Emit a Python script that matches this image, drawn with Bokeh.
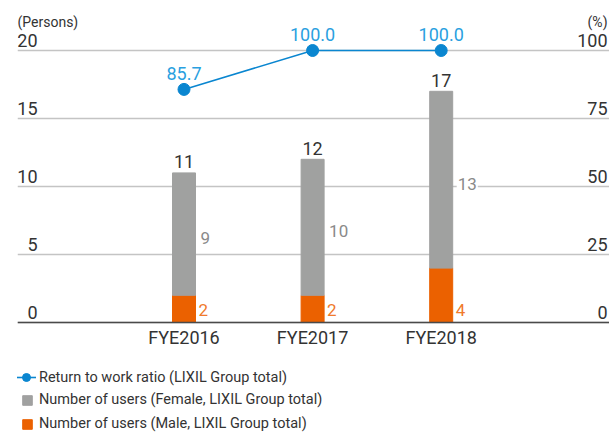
from bokeh.plotting import figure
from bokeh.models import ColumnDataSource, Range1d, Grid, FixedTicker, Span, Legend, LegendItem
from bokeh.core.properties import value
from bokeh.embed import file_html
from bokeh.resources import INLINE

# ---- data ----
categories = ["FYE2016", "FYE2017", "FYE2018"]
male_users = [2, 2, 4]
female_users = [9, 10, 13]
return_ratio = [85.7, 100.0, 100.0]
persons_ticks = [0, 5, 10, 15, 20]
percent_ticks = [0, 25, 50, 75, 100]
series_names = [
    "Return to work ratio (LIXIL Group total)",
    "Number of users (Female, LIXIL Group total)",
    "Number of users (Male, LIXIL Group total)",
]
unit_left = "(Persons)"
unit_right = "(%)"

# ---- style / layout ----
FONT = "Roboto"
DARK = "#333333"
GRAY = "#a0a1a0"
ORANGE = "#eb6100"
ORANGE_TXT = "#f07a2c"
GRAY_TXT = "#8a8a8a"
BLUE = "#0a86d0"
BLUE_TXT = "#2a9fe0"
W, H = 609, 432
frame_left = 17
first_center = 183.5
px_per_cat = 128.6
zero_y = 322
px_per_unit = 13.6
bar_w = 23 / px_per_cat

x_start = (frame_left - first_center) / px_per_cat
x_end = (W - first_center) / px_per_cat
y_end = zero_y / px_per_unit
y_start = -(H - zero_y) / px_per_unit
ratio = max(percent_ticks) / max(persons_ticks)

xs = list(range(len(categories)))
totals = [m + f for m, f in zip(male_users, female_users)]
src = ColumnDataSource(dict(
    x=xs,
    xl=[x + bar_w / 2 for x in xs],
    cat=categories,
    male=male_users,
    female=female_users,
    total=totals,
    total_txt=[str(t) for t in totals],
    male_txt=[str(v) for v in male_users],
    female_txt=[str(v) for v in female_users],
    female_mid=[m + f / 2 for m, f in zip(male_users, female_users)],
    zero=[0] * len(xs),
    ratio=return_ratio,
    ratio_txt=[f"{v:.1f}" for v in return_ratio],
))

p = figure(width=W, height=H, x_range=Range1d(x_start, x_end), y_range=Range1d(y_start, y_end),
           output_backend="svg", toolbar_location=None,
           x_axis_location=None, y_axis_location=None,
           min_border_left=frame_left, min_border_right=0, min_border_top=0, min_border_bottom=0)
p.outline_line_color = None
p.extra_y_ranges = {"pct": Range1d(y_start * ratio, y_end * ratio)}
p.xgrid.visible = False
p.ygrid.visible = False

grid = Grid(dimension=1, ticker=FixedTicker(ticks=persons_ticks),
            grid_line_color="#c4c4c4", grid_line_width=1.5)
p.add_layout(grid)
p.add_layout(Span(location=persons_ticks[0], dimension="width", line_color="#4a4a4a", line_width=1.5))

txt = dict(text_font=value(FONT), text_baseline="middle")

# tick labels
lt = ColumnDataSource(dict(y=persons_ticks, t=[str(v) for v in persons_ticks]))
p.text(x=x_start, y="y", text="t", source=lt, x_offset=20, y_offset=-10,
       text_align="right", text_font_size="18px", text_color=DARK, **txt)
rt = ColumnDataSource(dict(y=percent_ticks, t=[str(v) for v in percent_ticks]))
p.text(x=x_end, y="y", text="t", source=rt, y_range_name="pct", x_offset=-2, y_offset=-10,
       text_align="right", text_font_size="18px", text_color=DARK, **txt)
p.text(x=[x_start], y=[persons_ticks[-1]], text=[unit_left], x_offset=0, y_offset=-29,
       text_align="left", text_font_size="14px", text_color=DARK, **txt)
p.text(x=[x_end], y=[percent_ticks[-1]], text=[unit_right], y_range_name="pct", x_offset=-2, y_offset=-29,
       text_align="right", text_font_size="14px", text_color=DARK, **txt)

# bars
bars = p.vbar_stack(["male", "female"], x="x", width=bar_w, color=[ORANGE, GRAY], source=src)

# bar labels
p.text(x="x", y="total", text="total_txt", source=src, y_offset=-11, text_align="center",
       text_font_size="18px", text_color=DARK, **txt)
p.text(x="xl", y="female_mid", text="female_txt", source=src, x_offset=4, y_offset=4,
       text_align="left", text_font_size="17px",
       text_color=GRAY_TXT, background_fill_color="white", padding=1, **txt)
p.text(x="xl", y="zero", text="male_txt", source=src, x_offset=3, y_offset=-13,
       text_align="left", text_font_size="17px", text_color=ORANGE_TXT, **txt)

# category labels
p.text(x="x", y="zero", text="cat", source=src, y_offset=15, text_align="center",
       text_font_size="18px", text_color=DARK, **txt)

# line
ln = p.line("x", "ratio", source=src, y_range_name="pct", line_color=BLUE, line_width=1.6)
sc = p.scatter("x", "ratio", source=src, y_range_name="pct", size=12, fill_color=BLUE, line_color=BLUE)
p.text(x="x", y="ratio", text="ratio_txt", source=src, y_range_name="pct", y_offset=-16,
       text_align="center", text_font_size="18px", text_color=BLUE_TXT, **txt)

# legends
leg1 = Legend(items=[LegendItem(label=series_names[0], renderers=[ln, sc])],
              location=(-1, 45), glyph_width=20, glyph_height=20, label_standoff=3,
              padding=0, margin=0, border_line_color=None, background_fill_alpha=0,
              label_text_font=FONT, label_text_font_size="14.5px", label_text_color=DARK)
leg2 = Legend(items=[LegendItem(label=series_names[1], renderers=[bars[1]]),
                     LegendItem(label=series_names[2], renderers=[bars[0]])],
              location=(4, 0), glyph_width=12, glyph_height=12, label_standoff=6, spacing=7,
              padding=0, margin=0, border_line_color=None, background_fill_alpha=0,
              label_text_font=FONT, label_text_font_size="14.5px", label_text_color=DARK)
p.add_layout(leg1)
p.add_layout(leg2)

open("out.html", "w").write(file_html(p, INLINE))
